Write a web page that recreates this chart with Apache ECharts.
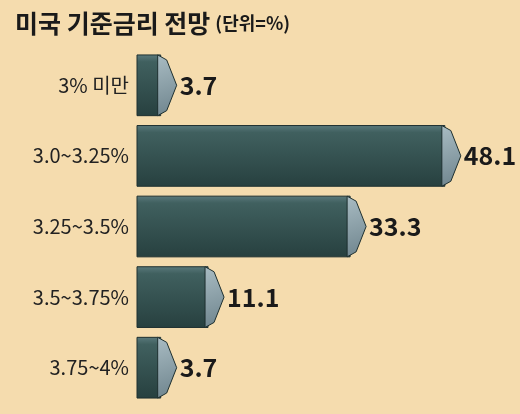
<!DOCTYPE html>
<html><head><meta charset="utf-8">
<script src="https://cdn.jsdelivr.net/npm/echarts@6/dist/echarts.min.js"></script>
<style>html,body{margin:0;background:#f5dcae}#c{width:520px;height:414px}</style>
</head><body><div id="c"></div>
<script>
const categories = ['3% 미만', '3.0~3.25%', '3.25~3.5%', '3.5~3.75%', '3.75~4%'];
const values = [3.7, 48.1, 33.3, 11.1, 3.7];

const chart = echarts.init(document.getElementById('c'));

function renderBar(params, api) {
    const v = api.value(1);
    const p0 = api.coord([0, api.value(0)]);
    const p1 = api.coord([v, api.value(0)]);
    const h = api.size([0, 1])[1] * 0.86;
    const top = p0[1] - h / 2, bot = p0[1] + h / 2, yc = p0[1];
    const x0 = p0[0], x1 = p1[0];
    return {
        type: 'group',
        children: [{
            type: 'rect',
            shape: { x: x0, y: top, width: x1 - x0, height: h },
            style: {
                fill: new echarts.graphic.LinearGradient(0, 0, 0, 1, [
                    { offset: 0, color: '#5b7a7d' },
                    { offset: 0.12, color: '#40605f' },
                    { offset: 1, color: '#27403f' }
                ]),
                stroke: '#1e3030', lineWidth: 1
            }
        }, {
            type: 'polygon',
            shape: { points: [[x1 - 3, top], [x1 + 6, top + 5], [x1 + 16, yc], [x1 + 6, bot - 5], [x1 - 3, bot]] },
            style: {
                fill: new echarts.graphic.LinearGradient(0, 0, 1, 1, [
                    { offset: 0, color: '#a9bcc3' },
                    { offset: 1, color: '#6d838c' }
                ]),
                stroke: '#1e3030', lineWidth: 1
            }
        }, {
            type: 'text',
            style: {
                x: x1 + 19, y: yc, text: String(v),
                fill: '#1a1a1a', font: 'bold 25px "Noto Sans CJK KR", sans-serif',
                verticalAlign: 'middle', align: 'left'
            }
        }]
    };
}

chart.setOption({
    backgroundColor: '#f5dcae',
    title: {
        text: '{a|미국 기준금리 전망} {b|(단위=%)}',
        left: 10, top: 6,
        textStyle: {
            rich: {
                a: { fontFamily: 'Noto Sans CJK KR', fontWeight: 'bold', fontSize: 25, color: '#1a1a1a' },
                b: { fontFamily: 'Noto Sans CJK KR', fontSize: 18, color: '#1a1a1a' }
            }
        }
    },
    grid: { left: 137, right: 63, top: 50, bottom: 11 },
    xAxis: { type: 'value', min: 0, max: 50, show: false },
    yAxis: {
        type: 'category', data: categories, inverse: true,
        axisLine: { show: false }, axisTick: { show: false },
        axisLabel: { fontFamily: 'Noto Sans CJK KR', fontSize: 20, color: '#222', margin: 8 }
    },
    series: [{
        type: 'custom',
        renderItem: renderBar,
        data: values.map((v, i) => [i, v]),
        encode: { x: 1, y: 0 }
    }]
});
</script></body></html>
